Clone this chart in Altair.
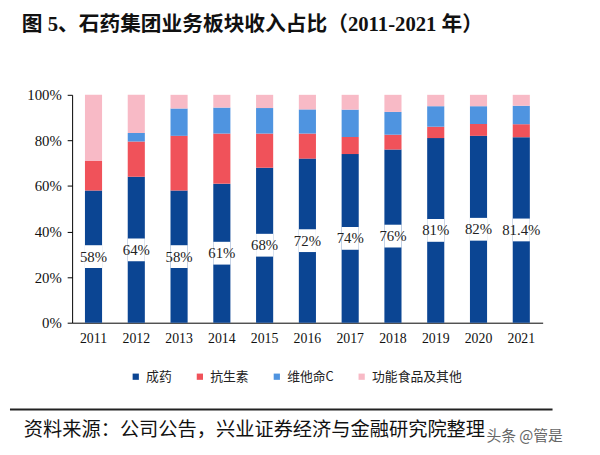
import altair as alt
import pandas as pd

years = ["2011", "2012", "2013", "2014", "2015", "2016", "2017", "2018", "2019", "2020", "2021"]
series = ["成药", "抗生素", "维他命C", "功能食品及其他"]
chengyao = [58, 64, 58, 61, 68, 72, 74, 76, 81, 82, 81.4]
kangshengsu = [13, 15.5, 24, 22, 15, 11, 7.5, 6.5, 5, 5.2, 5.7]
vitc = [0, 3.7, 12, 11.4, 11.2, 10.6, 12, 10, 9, 7.8, 8.1]
other = [29, 16.8, 6, 5.6, 5.8, 6.4, 6.5, 7.5, 5, 5, 4.8]
labels = ["58%", "64%", "58%", "61%", "68%", "72%", "74%", "76%", "81%", "82%", "81.4%"]
colors = ["#0B4593", "#F0525A", "#4F94E0", "#F8BAC6"]

rows = []
for i, y in enumerate(years):
    for k, (s, vals) in enumerate(zip(series, [chengyao, kangshengsu, vitc, other])):
        rows.append({"year": y, "series": s, "value": vals[i], "order": k})
df = pd.DataFrame(rows)

lab = pd.DataFrame({
    "year": years,
    "label": labels,
    "mid": [v / 2 for v in chengyao],
    "lo": [v / 2 - 5 for v in chengyao],
    "hi": [v / 2 + 5 for v in chengyao],
})

serif = "Liberation Serif, Noto Sans CJK SC"
cjk = "Noto Sans CJK SC"

xscale = alt.Scale(domain=years, paddingInner=0.6, paddingOuter=0.3)

bars = alt.Chart(df).mark_bar().encode(
    x=alt.X("year:N", scale=xscale, sort=years, title=None,
            axis=alt.Axis(labelAngle=0, ticks=False, domainColor="black", labelFont=serif,
                          labelFontSize=14, labelColor="#111", labelPadding=9)),
    y=alt.Y("value:Q", stack="zero", scale=alt.Scale(domain=[0, 100], nice=False), title=None,
            axis=alt.Axis(values=[0, 20, 40, 60, 80, 100], labelExpr="datum.value + '%'",
                          grid=False, domainColor="black", tickColor="black", tickSize=5,
                          labelFont=serif, labelFontSize=15, labelColor="#111", labelPadding=6)),
    color=alt.Color("series:N", scale=alt.Scale(domain=series, range=colors), title=None,
                    legend=alt.Legend(orient="none", legendX=58, legendY=279, direction="horizontal",
                                      symbolType="square", symbolSize=40, symbolStrokeWidth=0,
                                      labelFont=cjk, labelFontSize=13, labelColor="#222",
                                      columnPadding=21, labelOffset=4, padding=0)),
    order=alt.Order("order:Q"),
)

gap = alt.Chart(lab).mark_bar(color="white").encode(
    x=alt.X("year:N", scale=xscale, sort=years),
    y="lo:Q",
    y2="hi:Q",
)

txt = alt.Chart(lab).mark_text(font=serif, fontSize=15, color="#222", baseline="middle").encode(
    x=alt.X("year:N", scale=xscale, sort=years),
    y="mid:Q",
    text="label:N",
)

one = pd.DataFrame({"a": [0]})
rule = alt.Chart(one).mark_rule(color="#222", strokeWidth=2).encode(
    x=alt.value(-63), x2=alt.value(487), y=alt.value(319)
)
source = alt.Chart(one).mark_text(font=cjk, fontSize=19.5, align="left", baseline="middle", color="#111").encode(
    x=alt.value(-49), y=alt.value(340), text=alt.value("资料来源：公司公告，兴业证券经济与金融研究院整理")
)
wm = alt.Chart(one).mark_text(font=cjk, fontSize=15, align="left", baseline="middle", color="#666").encode(
    x=alt.value(420), y=alt.value(346), text=alt.value("头条 @管是")
)

chart = alt.layer(bars, gap, txt, rule, source, wm).properties(
    width=477, height=231,
    title=alt.TitleParams("图 5、石药集团业务板块收入占比（2011-2021 年）", anchor="start", frame="group",
                          font=serif, fontSize=21, fontWeight="bold", color="#111",
                          dx=-51, offset=54),
    autosize=alt.AutoSizeParams(type="none"),
    padding={"left": 65, "top": 85, "right": 50, "bottom": 123},
).configure_view(stroke=None)

chart.save("out.html", embed_options={"renderer": "svg", "actions": False})
